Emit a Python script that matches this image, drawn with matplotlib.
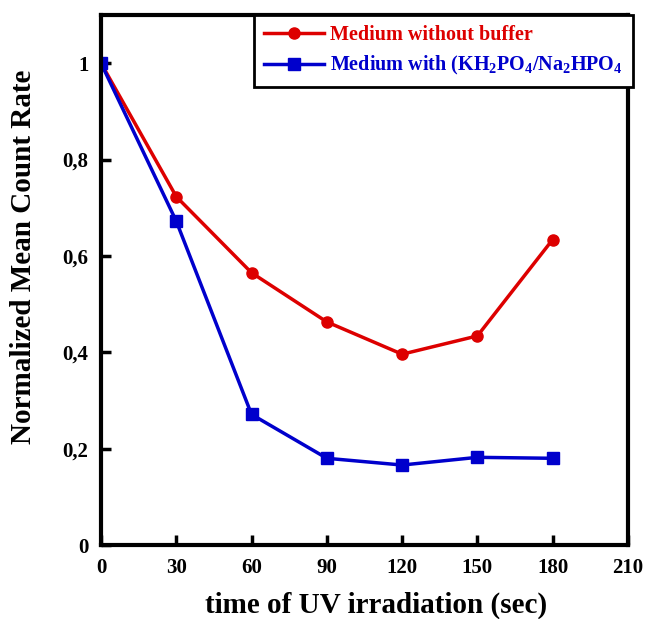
import matplotlib
matplotlib.use("Agg")
import matplotlib.pyplot as plt

time_sec = [0, 30, 60, 90, 120, 150, 180]
no_buffer = [1.0, 0.723, 0.565, 0.463, 0.396, 0.434, 0.634]
with_buffer = [1.0, 0.672, 0.271, 0.180, 0.166, 0.182, 0.180]
x_ticks = [0, 30, 60, 90, 120, 150, 180, 210]
y_ticks = [0, 0.2, 0.4, 0.6, 0.8, 1.0]
y_tick_labels = ["0", "0,2", "0,4", "0,6", "0,8", "1"]

plt.rcParams['font.family'] = ['Liberation Serif', 'DejaVu Serif']
plt.rcParams['font.weight'] = 'bold'
plt.rcParams['mathtext.fontset'] = 'custom'
plt.rcParams['mathtext.rm'] = 'Liberation Serif:bold'
plt.rcParams['mathtext.bf'] = 'Liberation Serif:bold'
plt.rcParams['mathtext.default'] = 'rm'

fig = plt.figure(figsize=(6.45, 6.19), dpi=100)
ax = fig.add_axes([0.1566, 0.1195, 0.817, 0.8563])

ax.plot(time_sec, no_buffer, color='#dd0000', lw=2.5, marker='o', ms=8,
        label='Medium without buffer')
ax.plot(time_sec, with_buffer, color='#0000cc', lw=2.5, marker='s', ms=8,
        label='Medium with (KH$_2$PO$_4$/Na$_2$HPO$_4$')

ax.set_xlim(0, 210)
ax.set_ylim(0, 1.1)
ax.set_xticks(x_ticks)
ax.set_xticklabels([str(t) for t in x_ticks])
ax.set_yticks(y_ticks)
ax.set_yticklabels(y_tick_labels)
ax.tick_params(direction='in', width=2.5, length=7, labelsize=15, pad=9)
for lab in ax.get_xticklabels() + ax.get_yticklabels():
    lab.set_fontweight('bold')
for s in ax.spines.values():
    s.set_linewidth(3)

ax.set_xlabel('time of UV irradiation (sec)', fontsize=21, fontweight='bold')
ax.set_ylabel('Normalized Mean Count Rate', fontsize=21, fontweight='bold')
ax.xaxis.set_label_coords(0.5228, -0.088)
ax.yaxis.set_label_coords(-0.122, 0.543)

leg = ax.legend(loc='upper right', bbox_to_anchor=(633/645, 1 - 15/619),
                bbox_transform=fig.transFigure, fontsize=14.5, frameon=True,
                fancybox=False, edgecolor='black', handlelength=3,
                borderaxespad=0, handletextpad=0.3, labelspacing=0.45,
                borderpad=0.5)
leg.get_frame().set_linewidth(2)
leg.get_frame().set_alpha(1)
for txt, c in zip(leg.get_texts(), ['#dd0000', '#0000cc']):
    txt.set_color(c)
    txt.set_fontweight('bold')

fig.savefig('out.png', dpi=100)
